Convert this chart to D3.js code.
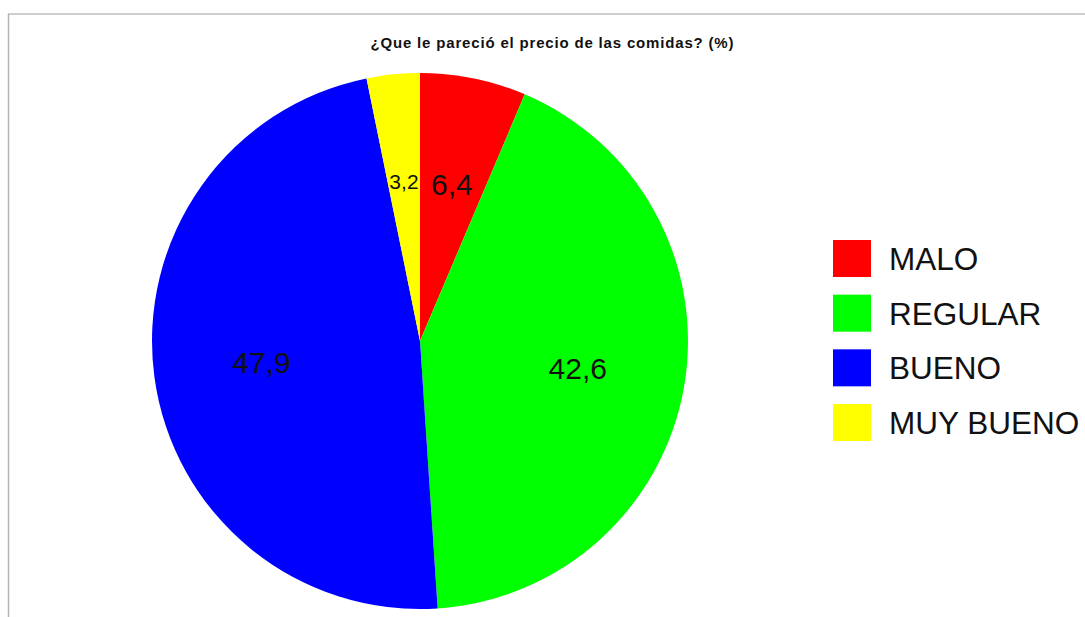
<!DOCTYPE html>
<html>
<head>
<meta charset="utf-8">
<script src="https://cdn.jsdelivr.net/npm/d3@7"></script>
<style>
  html, body { margin: 0; padding: 0; background: #ffffff; }
  svg { display: block; }
</style>
</head>
<body>
<script>
const categories = ["MALO", "REGULAR", "BUENO", "MUY BUENO"];
const values = [6.4, 42.6, 47.9, 3.2];
const valueLabels = ["6,4", "42,6", "47,9", "3,2"];
const colors = ["#ff0000", "#00ff00", "#0000ff", "#ffff00"];
const title = "¿Que le pareció el precio de las comidas? (%)";

const W = 1085, H = 617;
const svg = d3.select("body").append("svg").attr("width", W).attr("height", H);

svg.append("rect").attr("x", 0).attr("y", 0).attr("width", W).attr("height", H).attr("fill", "#fff");
// frame
svg.append("line").attr("x1", 8).attr("x2", W).attr("y1", 14).attr("y2", 14)
  .attr("stroke", "#cfcfcf").attr("stroke-width", 2);
svg.append("line").attr("x1", 8.5).attr("x2", 8.5).attr("y1", 14).attr("y2", H)
  .attr("stroke", "#b4b4b4").attr("stroke-width", 1.5);

svg.append("text")
  .attr("x", 552).attr("y", 48)
  .attr("text-anchor", "middle")
  .attr("font-family", "Liberation Sans, Arial, sans-serif")
  .attr("font-weight", "bold")
  .attr("font-size", 15)
  .attr("fill", "#111")
  .attr("textLength", 363)
  .attr("lengthAdjust", "spacing")
  .text(title);

const cx = 420, cy = 341, R = 268;
const g = svg.append("g").attr("transform", `translate(${cx},${cy})`);

const pie = d3.pie().sort(null).value(d => d);
const arcs = pie(values);
const arc = d3.arc().innerRadius(0).outerRadius(R);
const labelArc = d3.arc().innerRadius(160).outerRadius(160);

g.selectAll("path").data(arcs).enter().append("path")
  .attr("d", arc)
  .attr("fill", (d, i) => colors[i]);

const labelSizes = [30, 30, 30, 21];
g.selectAll("text.lbl").data(arcs).enter().append("text")
  .attr("class", "lbl")
  .attr("transform", d => { const c = labelArc.centroid(d); return `translate(${c[0]},${c[1]})`; })
  .attr("text-anchor", "middle")
  .attr("dy", (d, i) => labelSizes[i] * 0.36)
  .attr("font-family", "Liberation Sans, Arial, sans-serif")
  .attr("font-size", (d, i) => labelSizes[i])
  .attr("fill", "#111")
  .text((d, i) => valueLabels[i]);

// legend
const legY = d3.scalePoint().domain(categories).range([240, 404]);
const leg = svg.append("g");
leg.selectAll("rect").data(categories).enter().append("rect")
  .attr("x", 833).attr("y", d => legY(d))
  .attr("width", 38).attr("height", 37)
  .attr("fill", (d, i) => colors[i]);
leg.selectAll("text").data(categories).enter().append("text")
  .attr("x", 889).attr("y", d => legY(d) + 30)
  .attr("font-family", "Liberation Sans, Arial, sans-serif")
  .attr("font-size", 31.5)
  .attr("fill", "#111")
  .text(d => d);
</script>
</body>
</html>
